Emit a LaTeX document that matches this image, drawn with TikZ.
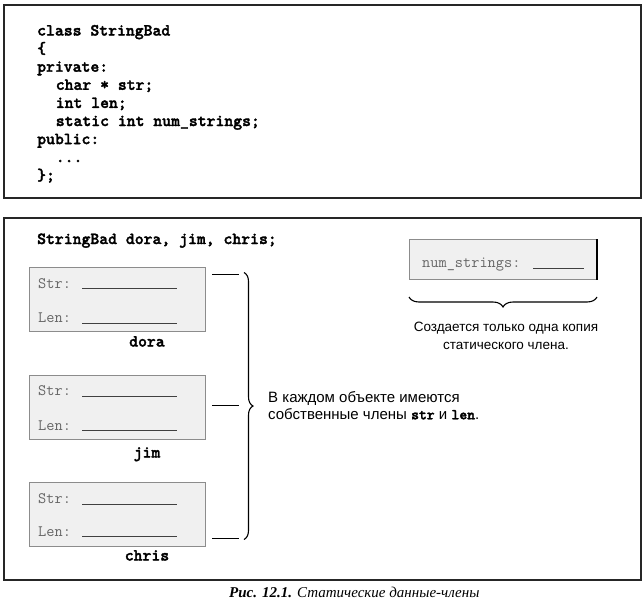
\documentclass[tikz,border=0pt]{standalone}
\usepackage{fontspec}
\setmainfont{Liberation Serif}
\setsansfont{Liberation Sans}
\newfontfamily\codebf{lmmonolt10-bold}[Extension=.otf, FakeBold=2]
\usetikzlibrary{decorations.pathreplacing}
\begin{document}
\begin{tikzpicture}[x=1pt,y=-1pt,
  frame/.style={draw=black!85, line width=1.6pt},
  code/.style={anchor=base west, font=\fontsize{16.9}{18}\selectfont\codebf, inner sep=0pt},
  objbox/.style={draw=black!45, fill=black!6, line width=1.1pt, minimum width=176pt, minimum height=64pt, inner sep=0pt, anchor=north west},
  field/.style={anchor=base west, font=\fontsize{15.9}{16}\selectfont\ttfamily, text=black!60, inner sep=0pt},
  blank/.style={draw=black!75, line width=0.9pt},
  objname/.style={anchor=base, font=\fontsize{16.9}{17}\selectfont\codebf, inner sep=0pt},
  note/.style={font=\fontsize{15}{16.7}\selectfont\sffamily, inner sep=0pt},
  tie/.style={draw=black, line width=1pt},
  bracestyle/.style={draw=black, line width=1.1pt, decorate, decoration={brace, amplitude=9pt}},
]
\useasboundingbox (0,0) rectangle (644,613);

% top frame with class declaration
\draw[frame] (4,5) rectangle (641,198);
\node[code] (c1) at (37,35.5) {class StringBad};
\node[code] (c2) at (37,53.6) {\{};
\node[code] (c3) at (37,71.7) {private:};
\node[code] (c4) at (55.6,89.8) {char * str;};
\node[code] (c5) at (55.6,107.9) {int len;};
\node[code] (c6) at (55.6,126) {static int num\_strings;};
\node[code] (c7) at (37,144.1) {public:};
\node[code] (c8) at (55.6,162.2) {...};
\node[code] (c9) at (37,180.3) {\};};

% bottom frame
\draw[frame] (4,218) rectangle (641,580);
\node[code] (decl) at (37,244) {StringBad dora, jim, chris;};

% objects
\node[objbox] (dora) at (29,267) {};
\node[field] (doraS) at (38,288) {Str:};
\node[field] (doraL) at (38,322.5) {Len:};
\draw[blank] (82,288.5) -- (177,288.5);
\draw[blank] (82,323) -- (177,323);
\node[objname] (doraN) at (147,346.5) {dora};

\node[objbox] (jim) at (29,374.5) {};
\node[field] (jimS) at (38,395.5) {Str:};
\node[field] (jimL) at (38,430) {Len:};
\draw[blank] (82,396) -- (177,396);
\draw[blank] (82,430.5) -- (177,430.5);
\node[objname] (jimN) at (147,457.5) {jim};

\node[objbox] (chris) at (29,482) {};
\node[field] (chrisS) at (38,503.5) {Str:};
\node[field] (chrisL) at (38,536) {Len:};
\draw[blank] (82,504) -- (177,504);
\draw[blank] (82,536.5) -- (177,536.5);
\node[objname] (chrisN) at (147,560.5) {chris};

% ties and brace
\coordinate (t1a) at (212,274); \coordinate (t1b) at (239,274);
\coordinate (t2a) at (212,405); \coordinate (t2b) at (239,405);
\coordinate (t3a) at (212,538.5); \coordinate (t3b) at (239,538.5);
\draw[tie] (t1a) -- (t1b);
\draw[tie] (t2a) -- (t2b);
\draw[tie] (t3a) -- (t3b);
\coordinate (bt) at (244,272.5); \coordinate (bb) at (244,539.5);
\draw[bracestyle] (bt) -- (bb);
\node[note, anchor=west, align=left] (own) at (268,405.5)
  {В каждом объекте имеются\\собственные члены {\codebf str} и {\codebf len}.};

% static member
\node[objbox, minimum width=187pt, minimum height=40pt] (nbox) at (409,239) {};
\draw[black, line width=1.6pt] (nbox.north east) -- (nbox.south east);
\node[field] (nfield) at (422,267.5) {num\_strings:};
\draw[blank] (533,268) -- (584,268);
\coordinate (nbr) at (597,297); \coordinate (nbl) at (409,297);
\draw[bracestyle, decoration={brace, amplitude=10pt}] (nbr) -- (nbl);
\node[note, align=center, font=\fontsize{13.5}{18}\selectfont\sffamily] (one) at (506,336)
  {Создается только одна копия\\статического члена.};

% caption
\node[anchor=base west, inner sep=0pt, font=\fontsize{15}{15}\selectfont\rmfamily] (cap) at (229,597.5)
  {\textbf{\textit{Рис. 12.1.}} \textit{Статические данные-члены}};
\end{tikzpicture}
\end{document}
